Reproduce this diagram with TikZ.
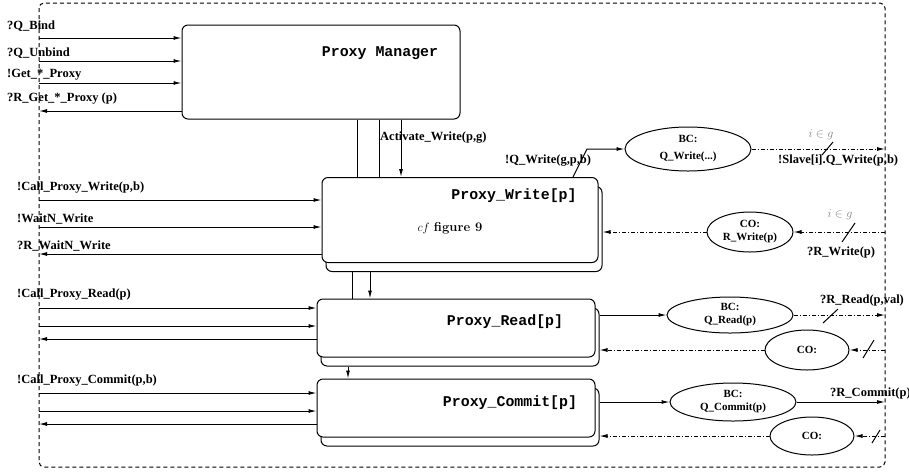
\documentclass[tikz,border=0pt]{standalone}
\usepackage{fontspec}
\usetikzlibrary{arrows.meta,shapes.geometric}
\newfontfamily\lsfam{Liberation Serif}
\newfontfamily\lmfam{Liberation Mono}
\newcommand\lblfnt{\lsfam\bfseries\fontsize{12.5}{15}\selectfont}
\newcommand\ellfnt{\lsfam\bfseries\fontsize{11}{13}\selectfont}
\newcommand\ttlfnt{\lmfam\bfseries\fontsize{14.9}{17}\selectfont}
\begin{document}
\begin{tikzpicture}[x=1pt,y=-1pt]
\tikzstyle{bx} = [draw,rectangle,rounded corners=6pt,fill=white,line width=1pt,inner sep=0pt] %process box
\tikzstyle{el} = [draw,ellipse,line width=1pt,inner sep=0pt,font=\ellfnt,align=center] %channel ellipse
\tikzstyle{ln} = [-,line width=1pt] %plain line
\tikzstyle{ar} = [-{Latex[length=8pt,width=4pt]},line width=1pt] %arrow
\tikzstyle{da} = [ar,dash pattern=on 4pt off 2pt on 1pt off 2pt] %dash-dot arrow
\tikzstyle{lb} = [anchor=west,inner sep=0pt,font=\lblfnt] %label
\tikzstyle{tl} = [inner sep=0pt,font=\ttlfnt] %box title
\tikzstyle{ig} = [inner sep=0pt,gray,font=\fontsize{12}{14}\selectfont] %index label
\useasboundingbox(0,0)rectangle(909,475);
\draw[line width=1pt,dash pattern=on 4pt off 3pt,rounded corners=5pt](39,3)rectangle(885,467);
% boxes
\node[bx,minimum width=278pt,minimum height=94pt](pm)at(321,72){};
\node[bx,minimum width=276pt,minimum height=85pt](pwb)at(464,229){};
\node[bx,minimum width=276pt,minimum height=85pt](pw)at(460,220){};
\node[bx,minimum width=278pt,minimum height=58pt](prb)at(460,337){};
\node[bx,minimum width=278pt,minimum height=58pt](pr)at(456,328){};
\node[bx,minimum width=278pt,minimum height=58pt](pcb)at(460,417){};
\node[bx,minimum width=278pt,minimum height=58pt](pc)at(456,408){};
\node[tl](tpm)at(380,53){Proxy Manager};
\node[tl](tpw)at(514,196){Proxy\_Write[p]};
\node[inner sep=0pt,font=\fontsize{13}{15}\selectfont](cfw)at(450,228){$cf$ \textbf{figure 9}};
\node[tl](tpr)at(505,322){Proxy\_Read[p]};
\node[tl](tpc)at(510,403){Proxy\_Commit[p]};
% ellipses
\node[el,minimum width=126pt,minimum height=44pt](bcw)at(688,149){BC:\\[4pt]Q\_Write(...)};
\node[el,minimum width=86pt,minimum height=40pt](cow)at(750,232){CO:\\R\_Write(p)};
\node[el,minimum width=126pt,minimum height=36pt](bcr)at(730,315){BC:\\Q\_Read(p)};
\node[el,minimum width=84pt,minimum height=40pt](cor)at(807,350){CO:};
\node[el,minimum width=126pt,minimum height=38pt](bcc)at(733,402){BC:\\Q\_Commit(p)};
\node[el,minimum width=84pt,minimum height=38pt](coc)at(812,436){CO:};
% free ends
\coordinate(qb)at(39,38);
\coordinate(qu)at(39,61);
\coordinate(gp)at(39,83);
\coordinate(rg)at(39,111);
\coordinate(cw)at(39,200);
\coordinate(nw)at(39,227);
\coordinate(rw)at(39,254);
\coordinate(cr)at(39,308);
\coordinate(nr)at(39,326);
\coordinate(rr)at(39,339);
\coordinate(cc)at(39,393);
\coordinate(nc)at(39,411);
\coordinate(rc)at(39,424);
\coordinate(qwk)at(587,149);
\coordinate(sw)at(885,149);
\coordinate(sr)at(885,232);
\coordinate(rdo)at(885,315);
\coordinate(rdi)at(885,350);
\coordinate(cmo)at(885,402);
\coordinate(cmi)at(885,436);
% left side
\draw[ar](qb)--(qb-|pm.west);
\draw[ar](qu)--(qu-|pm.west);
\draw[ar](gp)--(gp-|pm.west);
\draw[ar](rg-|pm.west)--(rg);
\draw[ar](cw)--(cw-|pw.west);
\draw[ar](nw)--(nw-|pw.west);
\draw[ar](rw-|pw.west)--(rw);
\draw[ar](cr)--(cr-|pr.west);
\draw[ar](nr)--(nr-|pr.west);
\draw[ar](rr-|pr.west)--(rr);
\draw[ar](cc)--(cc-|pc.west);
\draw[ar](nc)--(nc-|pc.west);
\draw[ar](rc-|pc.west)--(rc);
% links between boxes
\draw[ln]([xshift=36pt]pm.south)--([xshift=36pt]pm.south|-pw.north);
\draw[ln]([xshift=58pt]pm.south)--([xshift=58pt]pm.south|-pw.north);
\draw[ar]([xshift=80pt]pm.south)--([xshift=80pt]pm.south|-pw.north);
\draw[ln]([xshift=-112pt]pwb.south)--([xshift=-112pt]pwb.south|-pr.north);
\draw[ar]([xshift=-94pt]pwb.south)--([xshift=-94pt]pwb.south|-pr.north);
\draw[ar]([xshift=-112pt]prb.south)--([xshift=-112pt]prb.south|-pc.north);
% right side
\draw[ar]([xshift=113pt]pw.north)--(qwk)--(bcw.west);
\draw[da](bcw.east)--(sw);
\draw[da](sr)--(cow.east);
\draw[da](cow.west)--(cow.west-|pwb.east);
\draw[ar](bcr.west-|prb.east)--(bcr.west);
\draw[da](bcr.east)--(rdo);
\draw[da](rdi)--(cor.east);
\draw[da](cor.west)--(cor.west-|prb.east);
\draw[ar](bcc.west-|pcb.east)--(bcc.west);
\draw[ar](bcc.east)--(cmo);
\draw[da](cmi)--(coc.east);
\draw[da](coc.west)--(coc.west-|pcb.east);
\draw[ln](822,155)--(833,142);
\draw[ln](842,242)--(855,223);
\draw[ln](823,323)--(838,309);
\draw[ln](863,358)--(874,340);
\draw[ln](872,443)--(880,430);
% labels
\node[lb](lqb)at(7,26){?Q\_Bind};
\node[lb](lqu)at(7,53){?Q\_Unbind};
\node[lb](lgp)at(7,75){!Get\_*\_Proxy};
\node[lb](lrg)at(7,99){?R\_Get\_*\_Proxy (p)};
\node[lb](lcw)at(17,188){!Call\_Proxy\_Write(p,b)};
\node[lb](lnw)at(17,219){!WaitN\_Write};
\node[lb](lrw)at(17,246){?R\_WaitN\_Write};
\node[lb](lcr)at(17,295){!Call\_Proxy\_Read(p)};
\node[lb](lcc)at(17,381){!Call\_Proxy\_Commit(p,b)};
\node[lb](law)at(380,138){Activate\_Write(p,g)};
\node[lb](lqw)at(505,161){!Q\_Write(g,p,b)};
\node[lb](lsw)at(778,160){!Slave[i].Q\_Write(p,b)};
\node[lb](lsr)at(807,252){?R\_Write(p)};
\node[lb](lrd)at(820,300){?R\_Read(p,val)};
\node[lb](lcm)at(830,393){?R\_Commit(p)};
\node[ig](ig1)at(821,135){$i\in g$};
\node[ig](ig2)at(840,215){$i\in g$};
\end{tikzpicture}
\end{document}
